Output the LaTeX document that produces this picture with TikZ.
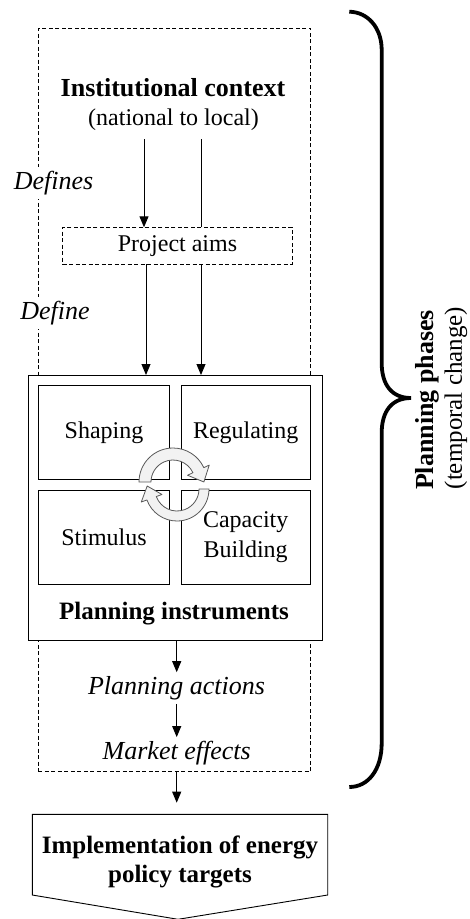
\documentclass[tikz,border=0pt]{standalone}
\usepackage{fontspec}
\setmainfont{Liberation Serif}
\usetikzlibrary{arrows.meta,calc}
\begin{document}
\begin{tikzpicture}[x=1pt,y=1pt,
  every node/.style={inner sep=0pt, outer sep=0pt},
  box/.style={draw, line width=0.9pt, fill=white},
  dbox/.style={draw, line width=0.9pt, dash pattern=on 4pt off 2.5pt},
  arr/.style={line width=0.9pt, -{Triangle[length=11pt,width=9pt]}},
  ln/.style={line width=0.9pt},
  rg/.style={font=\fontsize{24}{30}\selectfont},
  bd/.style={font=\fontsize{25}{28.7}\selectfont\bfseries},
  it/.style={font=\fontsize{26}{30}\selectfont\itshape, inner ysep=4pt},
  cyc/.style={draw=black!65, fill=black!5, line width=0.8pt, line join=round},
]
\useasboundingbox (0,0) rectangle (470,-919);

% outer dashed frame
\node[dbox, minimum width=272.4, minimum height=743.4] (outer) at (174.5,-400) {};

% context
\node[font=\fontsize{26}{30}\selectfont\bfseries] (ctx) at (173,-88) {Institutional context};
\node[rg] (ctxsub) at (173.5,-120) {(national to local)};
\coordinate (s1) at (144,-139);
\coordinate (s2) at (201,-139);

% planning instruments
\node[box, minimum width=294, minimum height=265] (inst) at (175.3,-507.5) {};
\node[box, rg, minimum width=130.6, minimum height=93.3] (shp) at (104,-432.3) {Shaping};
\node[box, rg, minimum width=129.3, minimum height=93.3] (reg) at (245.7,-432.3) {Regulating};
\node[box, rg, minimum width=130.6, minimum height=93.3] (stim) at (104,-537.3) {Stimulus};
\node[box, rg, minimum width=129.3, minimum height=93.3, align=center] (cap) at (245.7,-537.3) {Capacity\\Building};
\node[bd] (pi) at (174,-614) {Planning instruments};

% cycle arrows
\coordinate (ct) at (173,-482);
\draw[cyc] ($(ct)+(180:34)$) arc[start angle=180, end angle=25, radius=34]
  -- ($(ct)+(25:40)$) -- ($(ct)+(25:28)+(-65:13)$) -- ($(ct)+(25:16)$)
  -- ($(ct)+(25:22)$) arc[start angle=25, end angle=180, radius=22] -- cycle;
\coordinate (cb) at (177,-489);
\draw[cyc] ($(cb)+(0:32)$) arc[start angle=0, end angle=-160, radius=32]
  -- ($(cb)+(-160:38)$) -- ($(cb)+(-160:27)+(110:13)$) -- ($(cb)+(-160:16)$)
  -- ($(cb)+(-160:22)$) arc[start angle=-160, end angle=0, radius=22] -- cycle;

% arrows from context
\draw[arr] (s2) -- (s2 |- inst.north);
\node[dbox, fill=white, rg, minimum width=229.6, minimum height=37] (aims) at (177.5,-245.8) {Project aims};
\draw[arr] (s1) -- (s1 |- aims.north);
\coordinate (s3) at (146,0);
\draw[arr] (aims.south -| s3) -- (s3 |- inst.north);

\node[it, fill=white, inner xsep=1pt] (defs) at (53.5,-183) {Defines};
\node[it, fill=white, inner xsep=1pt] (def) at (55,-313) {Define};

% actions
\node[it] (pa) at (176.5,-688) {Planning actions};
\node[it] (me) at (176.7,-753) {Market effects};
\draw[arr] (inst.south -| me) -- (pa.north -| me);
\draw[arr] (pa.south -| me) -- (me.north);

% implementation
\node[minimum width=295.4, minimum height=80.7] (impl) at (180,-854.65) {};
\draw[ln, line join=miter] (impl.north west) -- (impl.north east) -- (impl.south east)
  -- ($(impl.south)+(-2,-24.3)$) -- (impl.south west) -- cycle;
\node[bd, align=center] (impltxt) at (180,-862) {Implementation of energy\\policy targets};
\draw[arr, shorten >=11.6pt] (outer.south -| me) -- (impl.north -| me);

% brace
\draw[line width=3.8pt] (349.3,-11.7) .. controls (368,-12) and (381.7,-28) .. (381.7,-50)
  -- (381.7,-363) .. controls (381.7,-385) and (392,-398) .. (411,-398)
  .. controls (392,-398) and (381.7,-411) .. (381.7,-433)
  -- (381.7,-743) .. controls (381.7,-770) and (368,-787) .. (349.3,-787);

\node[font=\fontsize{26}{30}\selectfont\bfseries, rotate=90] (pp) at (427,-400) {Planning phases};
\node[font=\fontsize{25}{30}\selectfont, rotate=90] (tc) at (456,-398) {(temporal change)};
\end{tikzpicture}
\end{document}
